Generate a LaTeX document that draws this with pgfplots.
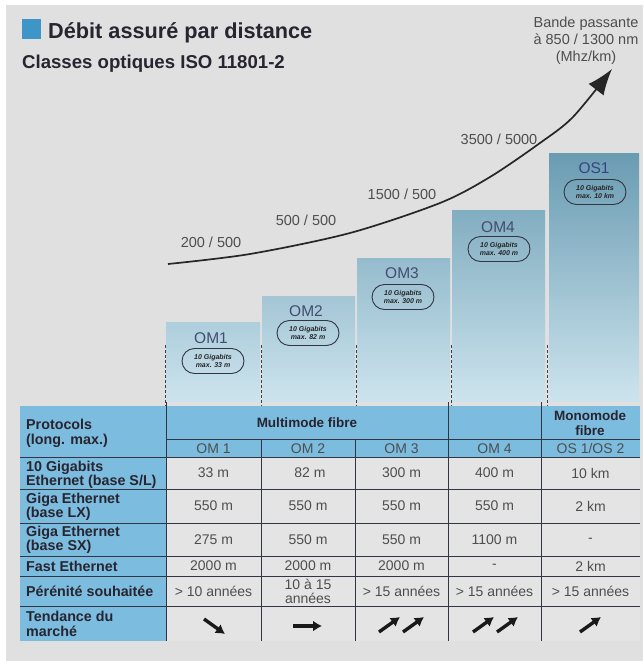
\documentclass[border=0pt]{standalone}
\usepackage{pgfplots}
\pgfplotsset{compat=1.18}
\usepackage{fontspec}
\setmainfont{Liberation Sans}
\usetikzlibrary{arrows.meta,shapes.misc}
\definecolor{bg}{RGB}{224,224,224}
\definecolor{cell}{RGB}{228,228,228}
\definecolor{tblue}{RGB}{124,188,223}
\definecolor{sqblue}{RGB}{62,150,200}
\definecolor{barbot}{RGB}{205,228,238}
\definecolor{bar1}{RGB}{174,206,220}
\definecolor{bar2}{RGB}{164,198,213}
\definecolor{bar3}{RGB}{149,188,205}
\definecolor{bar4}{RGB}{130,174,193}
\definecolor{bar5}{RGB}{106,156,178}
\definecolor{ttl}{RGB}{40,36,48}
\definecolor{txt}{RGB}{78,78,78}
\definecolor{omtxt}{RGB}{68,76,112}
\definecolor{grid}{RGB}{50,54,66}
\begin{document}
\begin{tikzpicture}
\fill[white] (0,0) rectangle (643pt,661pt);
\fill[bg] (6pt,0) rectangle (643pt,656pt);
% ---------- bars ----------
\begin{axis}[at={(0pt,259pt)}, anchor=south west, scale only axis,
  width=643pt, height=402pt, xmin=0, xmax=643, ymin=0, ymax=402,
  hide axis, clip=false]
\addplot[ybar, bar width=94, bar shift=0pt, draw=none, top color=bar1, bottom color=barbot] coordinates {(213,79)};
\addplot[ybar, bar width=93, bar shift=0pt, draw=none, top color=bar2, bottom color=barbot] coordinates {(308.5,105)};
\addplot[ybar, bar width=93, bar shift=0pt, draw=none, top color=bar3, bottom color=barbot] coordinates {(403.5,143)};
\addplot[ybar, bar width=93, bar shift=0pt, draw=none, top color=bar4, bottom color=barbot] coordinates {(498.5,191)};
\addplot[ybar, bar width=90, bar shift=0pt, draw=none, top color=bar5, bottom color=barbot] coordinates {(594,248)};
\end{axis}
% ---------- canvas ----------
\begin{axis}[at={(0pt,0pt)}, anchor=south west, scale only axis,
  width=643pt, height=661pt, xmin=0, xmax=643, ymin=0, ymax=661,
  y dir=reverse, hide axis, clip=false]
% title
\fill[sqblue] (22,19) rectangle (41,39);
\node[anchor=base west, font=\bfseries\fontsize{21.7}{24}\selectfont, text=ttl, inner sep=0] at (48,39) {Débit assuré par distance};
\node[anchor=base west, font=\bfseries\fontsize{18.6}{22}\selectfont, text=ttl, inner sep=0] at (22,68) {Classes optiques ISO 11801-2};
\node[align=center, font=\fontsize{14.5}{17}\selectfont, text=txt, inner sep=0] at (586,41) {Bande passante\\à 850 / 1300 nm\\(Mhz/km)};
% curve
\addplot[smooth, line width=1.7pt, color=black!85, -{Latex[length=26pt,width=19pt]}] coordinates {(168,264) (250,254) (350,233) (440,203) (490,177) (540,143) (573,117) (612,69)};
\node[font=\fontsize{14.5}{17}\selectfont, text=txt] at (211,242) {200 / 500};
\node[font=\fontsize{14.5}{17}\selectfont, text=txt] at (306,220) {500 / 500};
\node[font=\fontsize{14.5}{17}\selectfont, text=txt] at (402,194) {1500 / 500};
\node[font=\fontsize{14.5}{17}\selectfont, text=txt] at (499,139) {3500 / 5000};
% dashed separators
\addplot[densely dashed, line width=0.8pt, black!75] coordinates {(165,345) (165,406)};
\addplot[densely dashed, line width=0.8pt, black!75] coordinates {(261,345) (261,406)};
\addplot[densely dashed, line width=0.8pt, black!75] coordinates {(356,345) (356,406)};
\addplot[densely dashed, line width=0.8pt, black!75] coordinates {(451,345) (451,406)};
\addplot[densely dashed, line width=0.8pt, black!75] coordinates {(547,345) (547,406)};
% bar labels
\tikzset{oml/.style={font=\fontsize{15.5}{17}\selectfont, text=omtxt},
  ell/.style={draw=grid, line width=0.9pt, rounded rectangle, minimum width=64pt, minimum height=25pt, inner sep=1pt, align=center, font=\bfseries\itshape\fontsize{7}{8.5}\selectfont, text=black!85}}
\node[oml] at (211,338) {OM1};
\node[ell] at (213,361) {10 Gigabits\\max. 33 m};
\node[oml] at (306,311) {OM2};
\node[ell] at (308,333) {10 Gigabits\\max. 82 m};
\node[oml] at (402,273) {OM3};
\node[ell] at (403,297) {10 Gigabits\\max. 300 m};
\node[oml] at (498,227) {OM4};
\node[ell] at (499,249) {10 Gigabits\\max. 400 m};
\node[oml, text=omtxt!85!blue] at (594,168) {OS1};
\node[ell] at (595,192) {10 Gigabits\\max. 10 km};
% table fills
\fill[tblue] (20,406) rectangle (640,457);
\fill[tblue] (20,457) rectangle (166,641);
\fill[cell] (166,457) rectangle (640,641);
% table lines
\draw[grid, line width=1pt] (166,402) -- (166,641);
\draw[grid, line width=1pt] (448,402) -- (448,641);
\draw[grid, line width=1pt] (541,402) -- (541,641);
\draw[grid, line width=1pt] (261,439) -- (261,641);
\draw[grid, line width=1pt] (355,439) -- (355,641);
\draw[grid, line width=1pt] (166,439) -- (640,439);
\draw[grid, line width=1pt] (20,457) -- (640,457);
\draw[grid, line width=1pt] (20,489) -- (640,489);
\draw[grid, line width=1pt] (20,523) -- (640,523);
\draw[grid, line width=1pt] (20,556) -- (640,556);
\draw[grid, line width=1pt] (20,576) -- (640,576);
\draw[grid, line width=1pt] (20,606) -- (640,606);
% table text
\tikzset{rl/.style={anchor=west, align=left, inner sep=0, font=\bfseries\fontsize{14.3}{14.5}\selectfont, text=ttl},
  hd/.style={align=center, inner sep=0, font=\bfseries\fontsize{13.5}{15}\selectfont, text=ttl},
  cl/.style={align=center, inner sep=0, font=\fontsize{14}{15}\selectfont, text=txt},
  ar/.style={line width=3.4pt, black!90, -{Latex[length=9pt,width=11pt]}}}
\node[rl] at (26,433.5) {Protocols\\(long. max.)};
\node[rl] at (26,475) {10 Gigabits\\Ethernet (base S/L)};
\node[rl] at (26,507) {Giga Ethernet\\(base LX)};
\node[rl] at (26,540) {Giga Ethernet\\(base SX)};
\node[rl] at (26,566) {Fast Ethernet};
\node[rl] at (26,591) {Pérénité souhaitée};
\node[rl] at (26,624) {Tendance du\\marché};
\node[hd] at (307,423) {Multimode fibre};
\node[hd] at (590,423.5) {Monomode\\fibre};
\node[cl] at (213.5,448.5) {OM 1};
\node[cl] at (308,448.5) {OM 2};
\node[cl] at (401.5,448.5) {OM 3};
\node[cl] at (494.5,448.5) {OM 4};
\node[cl] at (590.5,448.5) {OS 1/OS 2};
% row 10G
\node[cl] at (213.5,473) {33 m};
\node[cl] at (310,473) {82 m};
\node[cl] at (401.5,473) {300 m};
\node[cl] at (494.5,473) {400 m};
\node[cl] at (590.5,473) {10 km};
% row LX
\node[cl] at (213.5,506) {550 m};
\node[cl] at (308,506) {550 m};
\node[cl] at (401.5,506) {550 m};
\node[cl] at (494.5,506) {550 m};
\node[cl] at (590.5,506) {2 km};
% row SX
\node[cl] at (213.5,540) {275 m};
\node[cl] at (308,540) {550 m};
\node[cl] at (401.5,540) {550 m};
\node[cl] at (494.5,540) {1100 m};
\node[cl] at (590.5,540) {-};
% row fast
\node[cl] at (213.5,566) {2000 m};
\node[cl] at (308,566) {2000 m};
\node[cl] at (401.5,566) {2000 m};
\node[cl] at (494.5,566) {-};
\node[cl] at (590.5,566) {2 km};
% row perennite
\node[cl] at (213.5,591) {> 10 années};
\node[cl, font=\fontsize{14}{14}\selectfont] at (308,591) {10 à 15\\années};
\node[cl] at (401.5,591) {> 15 années};
\node[cl] at (494.5,591) {> 15 années};
\node[cl] at (590.5,591) {> 15 années};
% row tendance
\draw[ar] (204,619) -- (225,634);
\draw[ar] (293,626) -- (322,626);
\draw[ar] (379,632) -- (400,617);
\draw[ar] (403,632) -- (424,617);
\draw[ar] (473,632) -- (494,617);
\draw[ar] (497,632) -- (518,617);
\draw[ar] (580,632) -- (601,617);
\end{axis}
\end{tikzpicture}
\end{document}
